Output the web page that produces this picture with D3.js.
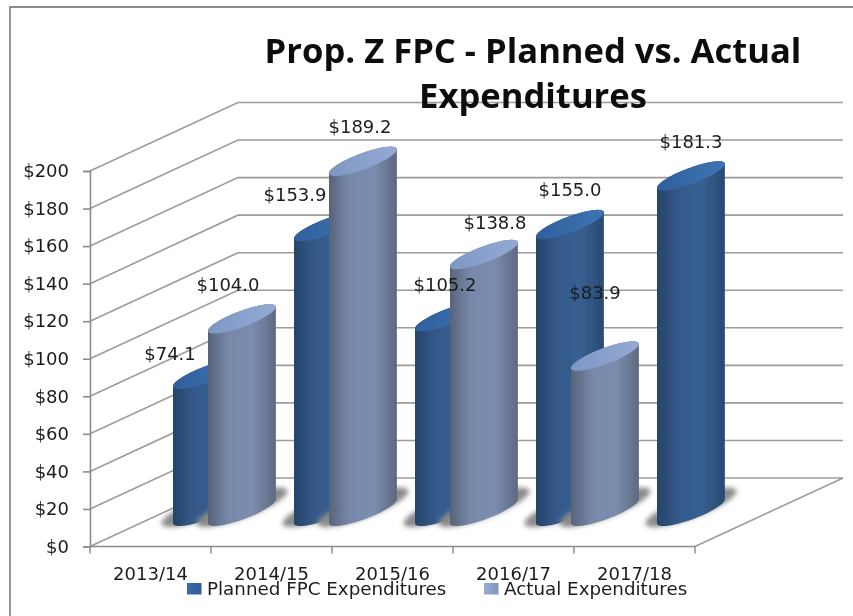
<!DOCTYPE html>
<html>
<head>
<meta charset="utf-8">
<script src="https://cdnjs.cloudflare.com/ajax/libs/d3/7.8.5/d3.min.js"></script>
<style>
  body { margin: 0; background: #fff; }
  text { font-family: "DejaVu Sans", sans-serif; fill: #1c1c1c; }
</style>
</head>
<body>
<svg id="chart" width="853" height="616"></svg>
<script>
// values
var years = ["2013/14", "2014/15", "2015/16", "2016/17", "2017/18"];
var planned = [74.1, 153.9, 105.2, 155.0, 181.3];
var actual = [104.0, 189.2, 138.8, 83.9, null];
var seriesNames = ["Planned FPC Expenditures", "Actual Expenditures"];
var yTicks = [0, 20, 40, 60, 80, 100, 120, 140, 160, 180, 200];
var titleLines = ["Prop. Z FPC - Planned vs. Actual", "Expenditures"];

const svg = d3.select("#chart");

// front of the fake 3d box, the back wall is the same thing pushed by depth
const front = {left: 90, right: 695, bottom: 546.5, top: 171};
const depth = {x: 148, y: -68.5};

const xscale = d3.scaleBand().domain(years).range([front.left, front.right]);
const yscale = d3.scaleLinear().domain([0, 200]).range([front.bottom, front.top]);
// bars stand on the floor, a bit inside the box
const barHeight = d3.scaleLinear().domain([0, 200]).range([0, 370]);
const barOffset = d3.scaleOrdinal().domain(seriesNames).range([83, 118]);

// cylinder base in the same oblique view
const baseY = 511.3;
const ux = 19.6, vx = 27.7, vy = -14.7;
const leftAngle = Math.atan2(vx, ux) * 180 / Math.PI + 180;

const defs = svg.append("defs");

function gradient(id, stops) {
    const g = defs.append("linearGradient").attr("id", id);
    stops.forEach(function(s) {
        g.append("stop").attr("offset", s[0]).attr("stop-color", s[1]);
    });
}
gradient("plannedBody", [[0, "#264468"], [0.3, "#34598a"], [0.65, "#375f91"], [1, "#294a72"]]);
gradient("actualBody", [[0, "#586379"], [0.3, "#7788a8"], [0.65, "#7b8eb0"], [1, "#5d6980"]]);
gradient("plannedTop", [[0, "#2f5f9c"], [1, "#3f74b4"]]);
gradient("actualTop", [[0, "#7d97c4"], [1, "#94aad4"]]);
gradient("plannedKey", [[0, "#3a6ba8"], [1, "#2f5c96"]]);
gradient("actualKey", [[0, "#96acd4"], [1, "#7f97c0"]]);

defs.append("filter").attr("id", "soft")
    .attr("x", "-5%").attr("y", "-5%").attr("width", "110%").attr("height", "110%")
    .append("feGaussianBlur").attr("stdDeviation", 0.6);
defs.append("filter").attr("id", "shadow")
    .attr("x", "-30%").attr("y", "-30%").attr("width", "160%").attr("height", "160%")
    .append("feGaussianBlur").attr("stdDeviation", 2.5);

const root = svg.append("g").attr("filter", "url(#soft)");

// frame of the pasted picture
root.append("line").attr("x1", 9).attr("x2", 853).attr("y1", 7).attr("y2", 7)
    .attr("stroke", "#8c8c8c").attr("stroke-width", 1.8);
root.append("line").attr("x1", 10).attr("x2", 10).attr("y1", 7).attr("y2", 616)
    .attr("stroke", "#8c8c8c").attr("stroke-width", 1.8);

// walls
const walls = root.append("g").attr("fill", "none").attr("stroke", "#9c9c9c").attr("stroke-width", 1.6);
yTicks.forEach(function(v) {
    const y = yscale(v);
    walls.append("path").attr("d", d3.line()([
        [front.left, y],
        [front.left + depth.x, y + depth.y],
        [front.right + depth.x, y + depth.y]
    ]));
});
walls.append("path").attr("d", d3.line()([
    [front.left + depth.x + (front.right - front.left), front.bottom + depth.y],
    [front.right, front.bottom]
]));

// axes
const yaxis = d3.axisLeft(yscale).tickValues(yTicks).tickFormat(d => "$" + d).tickSize(7).tickPadding(14);
const yG = root.append("g").attr("transform", "translate(" + front.left + ",0)").call(yaxis);
const xaxis = d3.axisBottom(xscale).tickSize(0).tickPadding(21);
const xG = root.append("g").attr("transform", "translate(0," + front.bottom + ")").call(xaxis);
[yG, xG].forEach(function(g) {
    g.selectAll("path, line").attr("stroke", "#8c8c8c").attr("stroke-width", 1.6);
    g.selectAll("text").attr("font-size", 18).attr("font-family", "DejaVu Sans").attr("fill", "#1c1c1c");
});
xG.selectAll("path").attr("d", "M" + front.left + ",0H" + front.right);
xG.selectAll(".edge").data(years.concat(["end"])).enter().append("line")
    .attr("class", "edge")
    .attr("x1", (d, i) => i < years.length ? xscale(d) : front.right)
    .attr("x2", (d, i) => i < years.length ? xscale(d) : front.right)
    .attr("y1", 0).attr("y2", 7)
    .attr("stroke", "#888").attr("stroke-width", 1.4);

// points round the tilted circle, angles in degrees
function ring(cx, cy, from, to, k) {
    return d3.range(from, to + 0.01, 3).map(function(deg) {
        const t = deg * Math.PI / 180;
        return [cx + k * (ux * Math.cos(t) + vx * Math.sin(t)), cy + k * vy * Math.sin(t)];
    });
}

const line = d3.line();
const bars = [];
years.forEach(function(year, i) {
    bars.push({year: year, series: seriesNames[0], key: "planned", value: planned[i]});
    if (actual[i] !== null) bars.push({year: year, series: seriesNames[1], key: "actual", value: actual[i]});
});

const barG = root.append("g");
bars.forEach(function(d) {
    const cx = xscale(d.year) + barOffset(d.series) + Math.hypot(ux, vx);
    const h = barHeight(d.value);
    const g = barG.append("g");

    g.append("path")
        .attr("d", line(ring(cx, baseY - 4, 0, 360, 1.34)) + "Z")
        .attr("fill", "#8a8a8a")
        .attr("filter", "url(#shadow)");

    // side of the cylinder: lower edge of the base, then back over the top
    const bottom = ring(cx, baseY, leftAngle, leftAngle + 180, 1);
    const over = ring(cx, baseY - h, leftAngle - 180, leftAngle, 1);
    g.append("path")
        .attr("d", line(bottom.concat(over)) + "Z")
        .attr("fill", "url(#" + d.key + "Body)");

    g.append("path")
        .attr("d", line(ring(cx, baseY - h, 0, 360, 1)) + "Z")
        .attr("fill", "url(#" + d.key + "Top)");
});

// excel labels were dragged around by hand so they sit apart from the bars
const labelFloor = 522;
const labelNudge = {
    "planned2013/14": [-3, -31], "actual2013/14": [20, -45],
    "planned2014/15": [1, -43], "actual2014/15": [31, -45],
    "planned2015/16": [30, -43], "actual2015/16": [45, -43],
    "planned2016/17": [34, -46], "actual2016/17": [24, -74],
    "planned2017/18": [34, -45]
};
root.append("g").selectAll("text").data(bars).enter().append("text")
    .attr("text-anchor", "middle")
    .attr("dominant-baseline", "central")
    .attr("font-size", 18)
    .attr("x", d => xscale(d.year) + barOffset(d.series) + labelNudge[d.key + d.year][0])
    .attr("y", d => labelFloor - barHeight(d.value) + labelNudge[d.key + d.year][1])
    .text(d => "$" + d.value.toFixed(1));

// title
root.append("g").selectAll("text").data(titleLines).enter().append("text")
    .attr("text-anchor", "middle")
    .attr("x", 533)
    .attr("y", (d, i) => 63 + i * 45)
    .attr("font-weight", 700)
    .attr("font-size", 34.6)
    .style("font-family", "'Open Sans'")
    .style("fill", "#111")
    .text(d => d);

// legend
const legend = root.append("g").selectAll("g").data(seriesNames).enter().append("g")
    .attr("transform", (d, i) => "translate(" + [187, 484][i] + ",583)");
legend.append("rect").attr("width", 14.5).attr("height", 11.5)
    .attr("fill", (d, i) => "url(#" + ["planned", "actual"][i] + "Key)");
legend.append("text").attr("x", 20).attr("y", 5.5)
    .attr("dominant-baseline", "central")
    .attr("font-size", 18.3)
    .text(d => d);
</script>
</body>
</html>
